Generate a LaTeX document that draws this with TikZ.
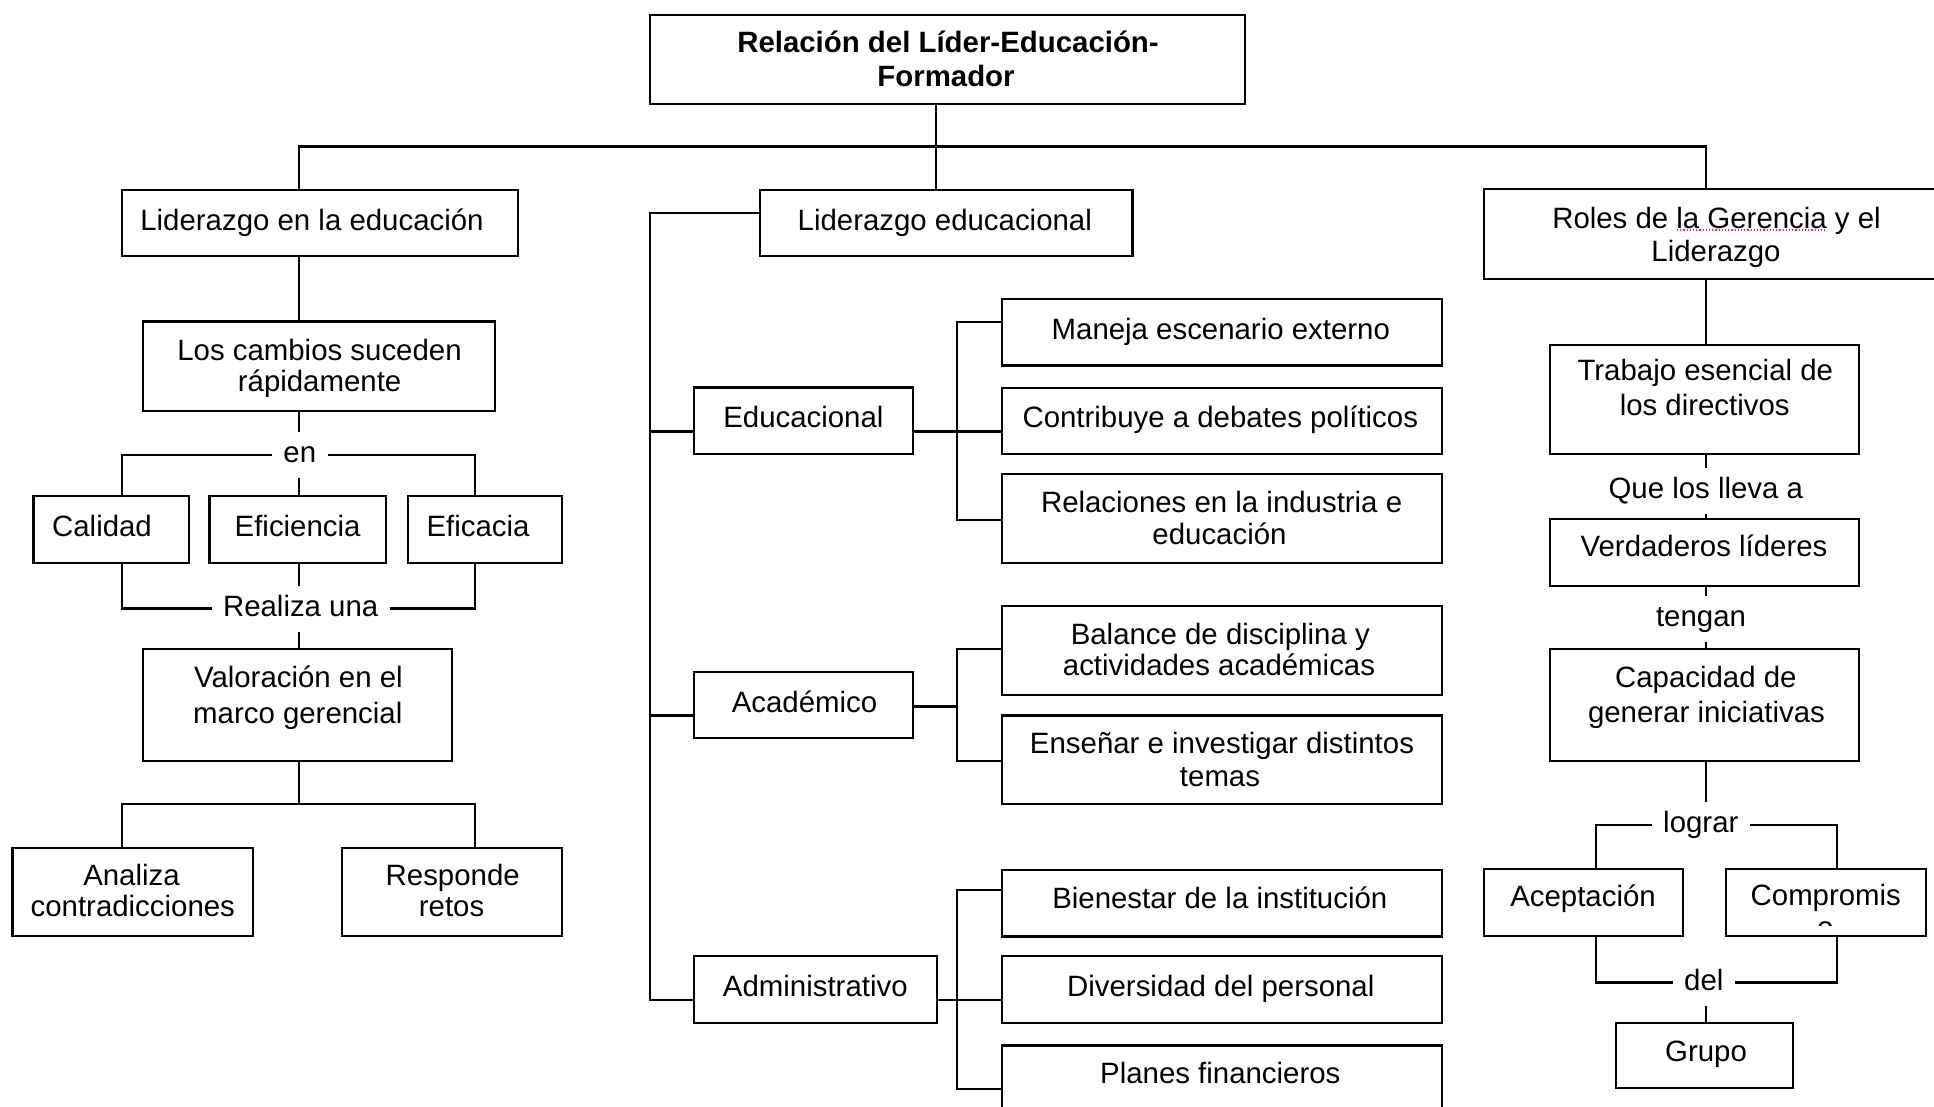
\documentclass[tikz,border=0pt]{standalone}
\usepackage{fontspec}
\setmainfont{Liberation Sans}
\begin{document}
\begin{tikzpicture}[x=1pt,y=-1pt,line width=2.2pt,
  box/.style={draw, rectangle, inner sep=0pt, outer sep=0pt, anchor=north west},
  txt/.style={anchor=base, inner sep=0pt, font=\fontsize{29.4}{34}\selectfont},
  ttl/.style={anchor=base, inner sep=0pt, font=\fontsize{29.4}{34}\selectfont\bfseries},
  lbl/.style={anchor=base, outer sep=0pt, font=\fontsize{29.4}{34}\selectfont,
    text height=21pt, text depth=6pt, inner xsep=11.5pt, inner ysep=9.5pt}]
\useasboundingbox (0,0) rectangle (1934,1106);
\fill[white] (0,0) rectangle (1934,1106);
\clip (0,0) rectangle (1934,1106);

% ---------- boxes ----------
\node[box, minimum width=594.5pt, minimum height=89.3pt] (top) at (650.2,15) {};
% left branch
\node[box, minimum width=396pt,   minimum height=66pt]   (led) at (122.3,190) {};
\node[box, minimum width=352.1pt, minimum height=89.6pt] (cam) at (142.9,321.4) {};
\node[box, minimum width=155.5pt, minimum height=66.7pt] (cal) at (33.5,496) {};
\node[box, minimum width=176.3pt, minimum height=66.7pt] (efi) at (209.4,496) {};
\node[box, minimum width=153.6pt, minimum height=66.7pt] (efc) at (408,496) {};
\node[box, minimum width=309.3pt, minimum height=112pt]  (val) at (142.9,649) {};
\node[box, minimum width=240.5pt, minimum height=88pt]   (ana) at (12.5,848) {};
\node[box, minimum width=219.6pt, minimum height=88pt]   (res) at (342,848) {};
% middle branch
\node[box, minimum width=372.1pt, minimum height=66pt]   (lde) at (760.3,190) {};
\node[box, minimum width=219.7pt, minimum height=66.8pt] (edu) at (693.6,387.5) {};
\node[box, minimum width=219.7pt, minimum height=66.2pt] (aca) at (693.6,672) {};
\node[box, minimum width=243pt,   minimum height=66.7pt] (adm) at (693.6,956) {};
\node[box, minimum width=439.6pt, minimum height=66.4pt] (man) at (1002,299) {};
\node[box, minimum width=439.6pt, minimum height=66.3pt] (con) at (1002,388) {};
\node[box, minimum width=439.6pt, minimum height=88.7pt] (rel) at (1002,474) {};
\node[box, minimum width=439.6pt, minimum height=89.2pt] (bal) at (1002,606) {};
\node[box, minimum width=439.6pt, minimum height=88.8pt] (ens) at (1002,715.5) {};
\node[box, minimum width=439.6pt, minimum height=66.8pt] (bie) at (1002,869.6) {};
\node[box, minimum width=439.6pt, minimum height=66.7pt] (div) at (1002,956) {};
\node[box, minimum width=439.6pt, minimum height=84.6pt] (pla) at (1002,1045.4) {};
% right branch
\node[box, minimum width=476.3pt, minimum height=89.7pt] (rol) at (1483.7,189.3) {};
\node[box, minimum width=309pt,   minimum height=109pt]  (tra) at (1550.3,345) {};
\node[box, minimum width=309pt,   minimum height=66.4pt] (ver) at (1550.3,519.3) {};
\node[box, minimum width=309pt,   minimum height=112pt]  (cap) at (1550.3,649.3) {};
\node[box, minimum width=199.3pt, minimum height=66.7pt] (ace) at (1484,869.3) {};
\node[box, minimum width=199.7pt, minimum height=66.7pt] (com) at (1726,869.3) {};
\node[box, minimum width=176.7pt, minimum height=65.6pt] (gru) at (1616.3,1022.7) {};

% ---------- box texts ----------
\node[ttl] (t-top1) at (948,52) {Relación del Líder-Educación-};
\node[ttl] (t-top2) at (946,86) {Formador};
\node[txt] (t-led) at (312,230) {Liderazgo en la educación};
\node[txt] (t-cam1) at (319.5,360) {Los cambios suceden};
\node[txt] (t-cam2) at (319.6,391.5) {rápidamente};
\node[txt] (t-cal) at (102,536) {Calidad};
\node[txt] (t-efi) at (297.6,536) {Eficiencia};
\node[txt] (t-efc) at (478,536) {Eficacia};
\node[txt] (t-val1) at (298.4,687) {Valoración en el};
\node[txt] (t-val2) at (297.8,723.4) {marco gerencial};
\node[txt] (t-ana1) at (131.5,885) {Analiza};
\node[txt] (t-ana2) at (132.8,916.5) {contradicciones};
\node[txt] (t-res1) at (452.7,885) {Responde};
\node[txt] (t-res2) at (451.6,916.5) {retos};
\node[txt] (t-lde) at (944.8,230) {Liderazgo educacional};
\node[txt] (t-man) at (1220.8,339) {Maneja escenario externo};
\node[txt] (t-edu) at (803.4,427.5) {Educacional};
\node[txt] (t-con) at (1220.3,427.5) {Contribuye a debates políticos};
\node[txt] (t-rel1) at (1221.6,512.5) {Relaciones en la industria e};
\node[txt] (t-rel2) at (1219.5,544.6) {educación};
\node[txt] (t-bal1) at (1220.3,644.7) {Balance de disciplina y};
\node[txt] (t-bal2) at (1219,675.4) {actividades académicas};
\node[txt] (t-aca) at (804.5,712.6) {Académico};
\node[txt] (t-ens1) at (1222,753) {Enseñar e investigar distintos};
\node[txt] (t-ens2) at (1220,786.6) {temas};
\node[txt] (t-bie) at (1219.8,908) {Bienestar de la institución};
\node[txt] (t-adm) at (815.3,996.7) {Administrativo};
\node[txt] (t-div) at (1220.8,996.7) {Diversidad del personal};
\node[txt] (t-pla) at (1220.3,1083) {Planes financieros};
\node[txt] (t-rol1) at (1716.5,228.3) {Roles de la Gerencia y el};
\node[txt] (t-rol2) at (1716,261.7) {Liderazgo};
\draw[line width=1.2pt, dotted, color={rgb,255:red,205;green,40;blue,205}]
  (1677,230) -- (1827,230);
\node[txt] (t-tra1) at (1705.3,380) {Trabajo esencial de};
\node[txt] (t-tra2) at (1704.7,415.7) {los directivos};
\node[txt] (t-ver) at (1704,556.7) {Verdaderos líderes};
\node[txt] (t-cap1) at (1705.8,687.3) {Capacidad de};
\node[txt] (t-cap2) at (1706.5,722.7) {generar iniciativas};
\node[txt] (t-ace) at (1583,906.7) {Aceptación};
\node[txt] (t-com) at (1825.8,905) {Compromis};
\begin{scope}
  \clip (1730,915) rectangle (1920,925.5);
  \node[txt] (t-com2) at (1825.3,937) {o};
\end{scope}
\node[txt] (t-gru) at (1706,1061.7) {Grupo};

% ---------- link words ----------
\node[lbl] (en)  at (299.8,462.5) {en};
\node[lbl] (rea) at (300.7,616) {Realiza una};
\node[lbl] (que) at (1705.8,498.3) {Que los lleva a};
\node[lbl] (ten) at (1701,626) {tengan};
\node[lbl] (log) at (1700.8,832.3) {lograr};
\node[lbl] (del) at (1703.8,990) {del};

% ---------- guide coordinates ----------
\coordinate (xL)  at (298.7,0);
\coordinate (xLL) at (122.3,0);
\coordinate (xLR) at (474.6,0);
\coordinate (xC)  at (936,0);
\coordinate (xR)  at (1706,0);
\coordinate (xS)  at (650.2,0);
\coordinate (xK)  at (956.7,0);
\coordinate (xA)  at (1596,0);
\coordinate (xM)  at (1836.7,0);
\coordinate (yBus) at (0,146.4);
\coordinate (yV)   at (0,804);
\coordinate (yLe)  at (0,213);
\coordinate (yEdu) at (0,431.4);
\coordinate (yAcL) at (0,715.5);
\coordinate (yAcR) at (0,706.4);
\coordinate (yAdm) at (0,999.6);
\coordinate (yMan) at (0,322);
\coordinate (yRel) at (0,519.6);
\coordinate (yBal) at (0,649);
\coordinate (yEns) at (0,760.6);
\coordinate (yBie) at (0,889.8);
\coordinate (yPla) at (0,1088.7);

% ---------- connectors ----------
% trunk
\draw (top.south -| xC) -- (lde.north -| xC);
\draw (led.north -| xL) -- (xL |- yBus) -- (xR |- yBus) -- (rol.north -| xR);
% left branch
\draw (led.south -| xL) -- (cam.north -| xL);
\draw (cam.south -| xL) -- (en.north -| xL);
\draw (en.west) -| (cal.north -| xLL);
\draw (en.east) -| (efc.north -| xLR);
\draw (en.south -| xL) -- (efi.north -| xL);
\draw (cal.south -| xLL) |- (rea.west);
\draw (efc.south -| xLR) |- (rea.east);
\draw (efi.south -| xL) -- (rea.north -| xL);
\draw (rea.south -| xL) -- (val.north -| xL);
\draw (val.south -| xL) -- (xL |- yV);
\draw (ana.north -| xLL) |- (xLR |- yV) -- (res.north -| xLR);
% middle branch
\draw (lde.west |- yLe) -| (xS |- yAdm) -- (adm.west |- yAdm);
\draw (xS |- yEdu) -- (edu.west |- yEdu);
\draw (xS |- yAcL) -- (aca.west |- yAcL);
\draw (edu.east |- yEdu) -- (con.west |- yEdu);
\draw (man.west |- yMan) -| (xK |- yRel) -- (rel.west |- yRel);
\draw (aca.east |- yAcR) -- (xK |- yAcR);
\draw (bal.west |- yBal) -| (xK |- yEns) -- (ens.west |- yEns);
\draw (adm.east |- yAdm) -- (div.west |- yAdm);
\draw (bie.west |- yBie) -| (xK |- yPla) -- (pla.west |- yPla);
% right branch
\draw (rol.south -| xR) -- (tra.north -| xR);
\draw (tra.south -| xR) -- (que.north -| xR);
\draw (que.south -| xR) -- (ver.north -| xR);
\draw (ver.south -| xR) -- (ten.north -| xR);
\draw (ten.south -| xR) -- (cap.north -| xR);
\draw (cap.south -| xR) -- (log.north -| xR);
\draw (log.west) -| (ace.north -| xA);
\draw (log.east) -| (com.north -| xM);
\draw (ace.south -| xA) |- (del.west);
\draw (com.south -| xM) |- (del.east);
\draw (del.south -| xR) -- (gru.north -| xR);
\end{tikzpicture}
\end{document}
